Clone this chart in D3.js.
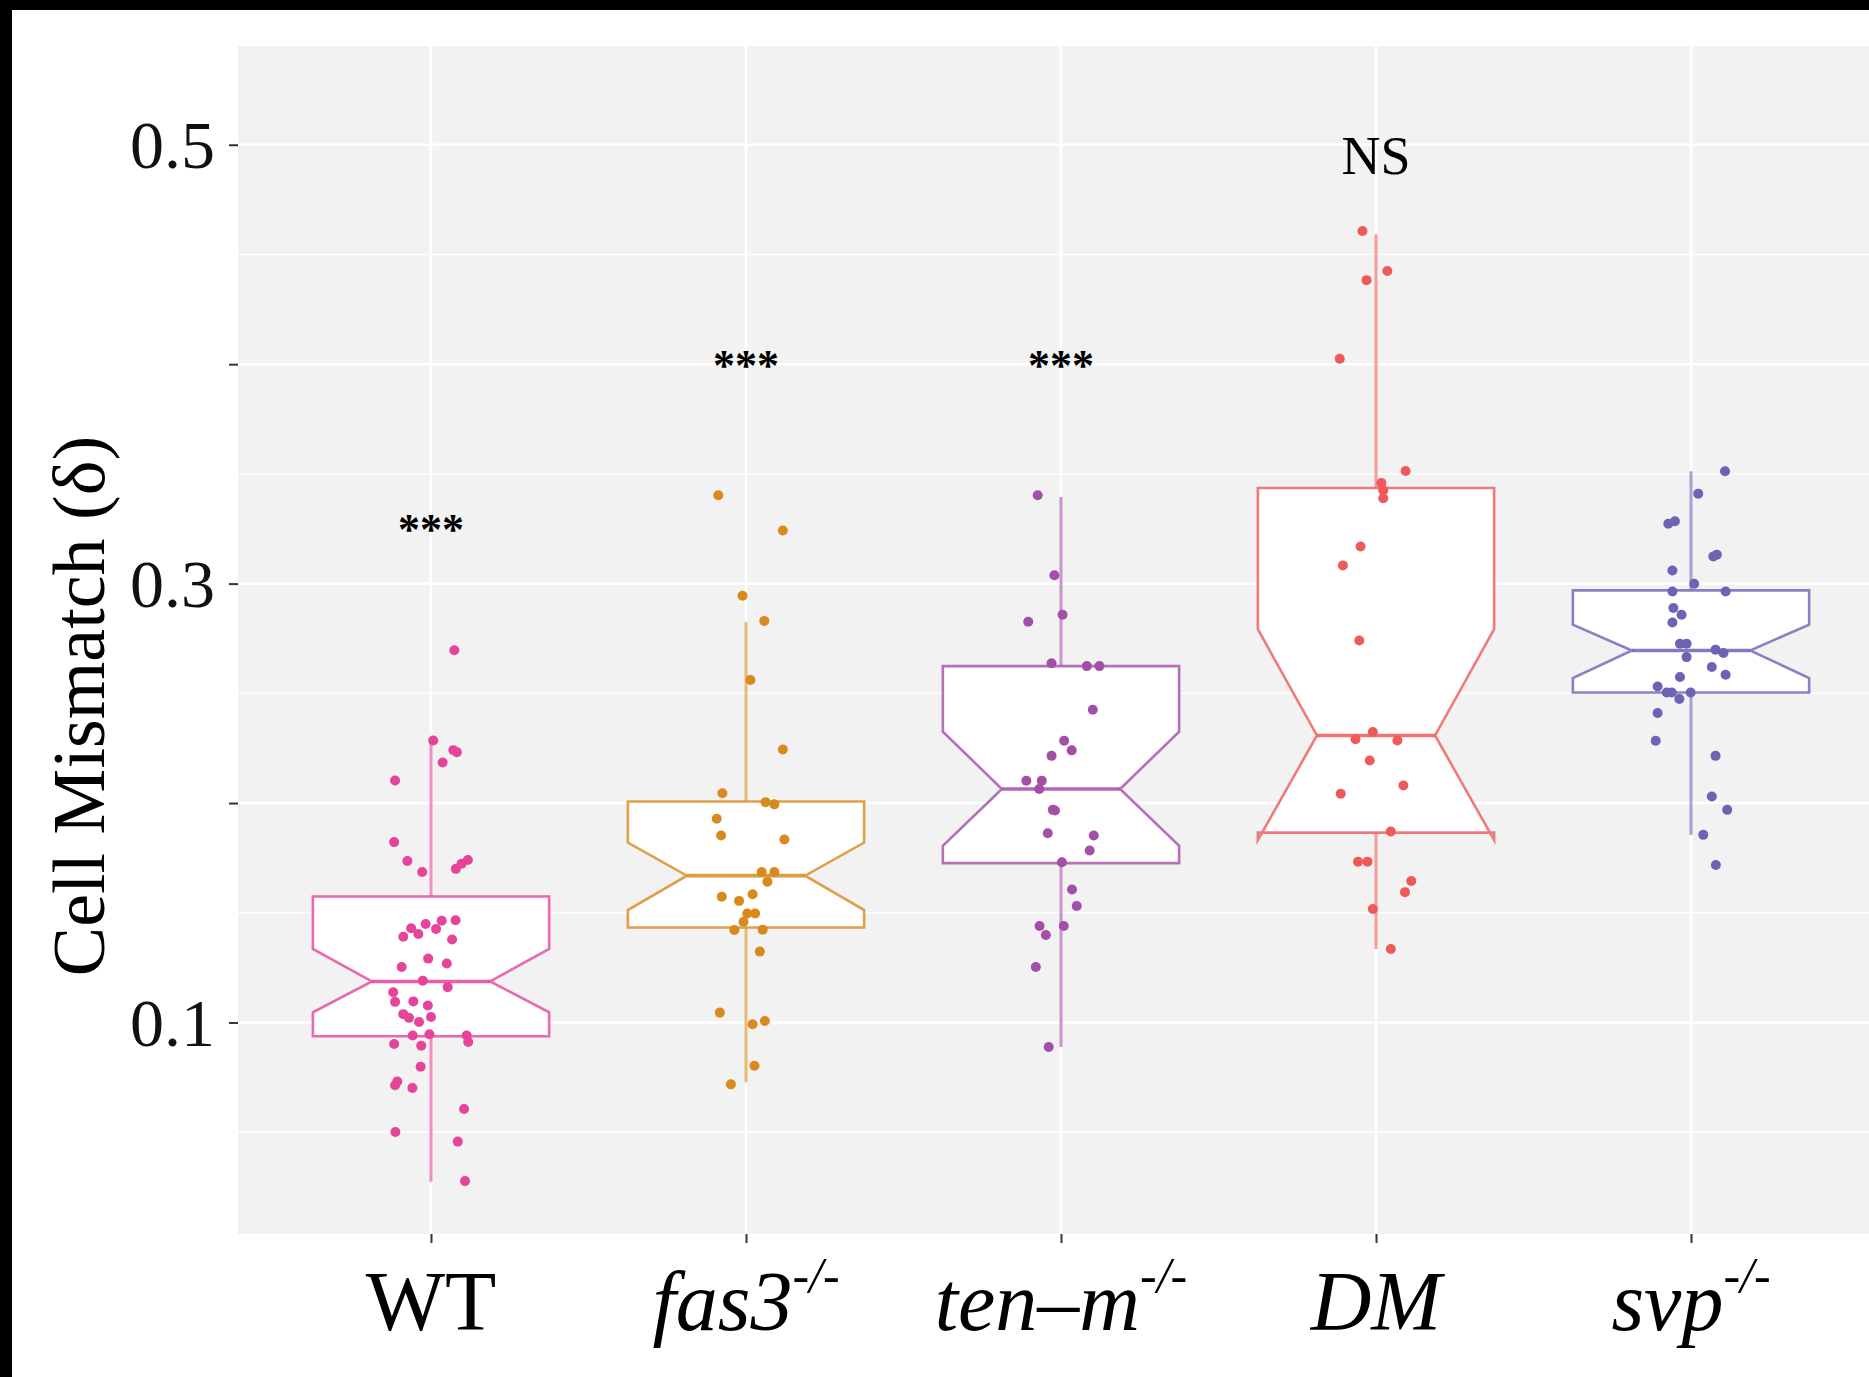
<!DOCTYPE html>
<html>
<head>
<meta charset="utf-8">
<script src="https://cdn.jsdelivr.net/npm/d3@7"></script>
<style>
  html, body { margin: 0; padding: 0; background: #fff; }
  svg { display: block; }
  text { font-family: "Liberation Serif", "DejaVu Serif", serif; }
</style>
</head>
<body>
<svg id="chart" width="1869" height="1377"></svg>
<script>
// Genotypes shown along the x axis
const categories = ["WT", "fas3", "ten-m", "DM", "svp"];
const catNames   = ["WT", "fas3", "ten\u2013m", "DM", "svp"];
const catItalic  = [false, true, true, true, true];
const catSup     = ["", "-/-", "-/-", "", "-/-"];
const colors     = ["#E6449A", "#D98A1F", "#A24FA8", "#EE5A5A", "#6B64B4"];

// Box statistics per genotype
const whiskerLo = [0.0274, 0.0727, 0.0888, 0.1335, 0.1855];
const q1        = [0.0937, 0.1433, 0.1726, 0.1865, 0.2504];
const median    = [0.1187, 0.1669, 0.2064, 0.2308, 0.2695];
const q3        = [0.1574, 0.2007, 0.2624, 0.3436, 0.2969];
const whiskerHi = [0.2285, 0.2826, 0.3395, 0.4592, 0.3512];
const notchLo   = [0.1046, 0.1512, 0.1805, 0.1831, 0.2570];
const notchHi   = [0.1335, 0.1820, 0.2325, 0.2792, 0.2813];

// Individual measurements (cell mismatch δ) per genotype
const valuesWT = [0.2696, 0.2285, 0.2241, 0.2232, 0.2185, 0.2103, 0.1822, 0.1736, 0.1686, 0.1700,
  0.1723, 0.1740, 0.1391, 0.1429, 0.1403, 0.1449, 0.1426, 0.1464, 0.1466, 0.1378, 0.1253, 0.1291,
  0.1269, 0.1190, 0.1161, 0.1138, 0.1094, 0.1096, 0.1077, 0.1038, 0.1021, 0.1002, 0.1025, 0.0941,
  0.0946, 0.0941, 0.0911, 0.0902, 0.0894, 0.0798, 0.0731, 0.0714, 0.0701, 0.0606, 0.0501, 0.0457, 0.0277];
const valuesFas3 = [0.3403, 0.3242, 0.2945, 0.2830, 0.2561, 0.2244, 0.2045, 0.1928, 0.1852, 0.2004,
  0.1994, 0.1834, 0.1686, 0.1686, 0.1641, 0.1573, 0.1554, 0.1584, 0.1497, 0.1497, 0.1459, 0.1421,
  0.1423, 0.1323, 0.1045, 0.0992, 0.1007, 0.0803, 0.0718];
const valuesTenm = [0.3403, 0.3038, 0.2858, 0.2826, 0.2637, 0.2624, 0.2624, 0.2425, 0.2284, 0.2240,
  0.2215, 0.2102, 0.2102, 0.2064, 0.1969, 0.1966, 0.1862, 0.1852, 0.1784, 0.1730, 0.1606, 0.1531,
  0.1440, 0.1399, 0.1440, 0.1253, 0.0888];
const valuesDM = [0.4607, 0.4425, 0.4383, 0.4025, 0.3513, 0.3459, 0.3425, 0.3389, 0.3169, 0.3083,
  0.2741, 0.2324, 0.2291, 0.2285, 0.2194, 0.2080, 0.2042, 0.1870, 0.1733, 0.1733, 0.1645, 0.1594,
  0.1517, 0.1335];
const valuesSvp = [0.3512, 0.3410, 0.3273, 0.3284, 0.3124, 0.3132, 0.3060, 0.2999, 0.2964, 0.2964,
  0.2889, 0.2858, 0.2823, 0.2726, 0.2726, 0.2665, 0.2699, 0.2684, 0.2620, 0.2585, 0.2574, 0.2531,
  0.2504, 0.2504, 0.2474, 0.2504, 0.2410, 0.2284, 0.2215, 0.2030, 0.1969, 0.1855, 0.1718];

// Horizontal jitter of each measurement, in category widths
const jitterWT = [0.074, 0.007, 0.071, 0.082, 0.037, -0.114, -0.117, -0.075, -0.028, 0.079, 0.097,
  0.117, -0.088, -0.063, -0.040, -0.017, 0.016, 0.034, 0.078, 0.067, -0.093, -0.009, 0.050, -0.026,
  0.053, -0.120, -0.114, -0.056, -0.010, -0.088, -0.070, -0.038, 0.000, -0.058, -0.005, 0.113, 0.118,
  -0.117, -0.031, -0.033, -0.107, -0.114, -0.059, 0.105, -0.113, 0.085, 0.108];
const jitterFas3 = [-0.088, 0.117, -0.011, 0.058, 0.014, 0.117, -0.075, -0.093, -0.079, 0.062, 0.090,
  0.122, 0.050, 0.090, 0.068, -0.077, -0.022, 0.021, 0.004, 0.029, -0.008, -0.037, 0.053, 0.044,
  -0.083, 0.021, 0.060, 0.027, -0.048];
const jitterTenm = [-0.074, -0.021, 0.005, -0.104, -0.030, 0.082, 0.122, 0.101, 0.010, 0.034, -0.030,
  -0.110, -0.061, -0.069, -0.026, -0.019, -0.042, 0.104, 0.091, 0.003, 0.035, 0.050, -0.068, -0.048,
  0.009, -0.080, -0.039];
const jitterDM = [-0.043, 0.036, -0.030, -0.115, 0.094, 0.017, 0.023, 0.023, -0.049, -0.105, -0.053,
  -0.010, -0.065, 0.068, -0.020, 0.087, -0.112, 0.047, -0.057, -0.027, 0.112, 0.092, -0.010, 0.047];
const jitterSvp = [0.108, 0.023, -0.072, -0.051, 0.071, 0.082, -0.059, 0.010, -0.059, 0.110, -0.056,
  -0.030, -0.059, -0.035, -0.014, -0.014, 0.078, 0.103, 0.066, 0.110, -0.035, -0.106, -0.077, -0.061,
  -0.037, -0.001, -0.106, -0.112, 0.078, 0.066, 0.115, 0.039, 0.079];

// Significance versus the reference, and the height of each annotation
const sigText = ["***", "***", "***", "NS", ""];
const sigY    = [0.328, 0.403, 0.403, 0.495, null];

// Y axis ticks
const yTicks      = [0.1, 0.2, 0.3, 0.4, 0.5];
const yTickLabels = ["0.1", "", "0.3", "", "0.5"];
const yMinor      = [0.05, 0.15, 0.25, 0.35, 0.45];
const yTitle      = "Cell Mismatch (\u03b4)";

const allValues = [valuesWT, valuesFas3, valuesTenm, valuesDM, valuesSvp];
const allJitter = [jitterWT, jitterFas3, jitterTenm, jitterDM, jitterSvp];

// ---- layout ----
const W = 1869, H = 1377;
const panel = { left: 238, top: 46, right: 1869, bottom: 1234 };

const svg = d3.select("#chart");

// outer frame
svg.append("rect").attr("x", 0).attr("y", 0).attr("width", W).attr("height", H).attr("fill", "#fff");
svg.append("rect").attr("x", 0).attr("y", 0).attr("width", W).attr("height", 10).attr("fill", "#000");
svg.append("rect").attr("x", 0).attr("y", 0).attr("width", 12).attr("height", H).attr("fill", "#000");

const x = d3.scalePoint().domain(categories).range([431, 1691]);
const step = x.step();
const y = d3.scaleLinear().domain([0.0036, 0.545]).range([panel.bottom, panel.top]);

// panel background
svg.append("rect")
  .attr("x", panel.left).attr("y", panel.top)
  .attr("width", panel.right - panel.left).attr("height", panel.bottom - panel.top)
  .attr("fill", "#F2F2F2");

const grid = svg.append("g");
grid.selectAll("line.minor").data(yMinor).join("line")
  .attr("x1", panel.left).attr("x2", panel.right)
  .attr("y1", d => y(d)).attr("y2", d => y(d))
  .attr("stroke", "#fff").attr("stroke-width", 1.4);
grid.selectAll("line.major").data(yTicks).join("line")
  .attr("x1", panel.left).attr("x2", panel.right)
  .attr("y1", d => y(d)).attr("y2", d => y(d))
  .attr("stroke", "#fff").attr("stroke-width", 2.6);
grid.selectAll("line.vert").data(categories).join("line")
  .attr("x1", d => x(d)).attr("x2", d => x(d))
  .attr("y1", panel.top).attr("y2", panel.bottom)
  .attr("stroke", "#fff").attr("stroke-width", 2.6);

// ---- boxes ----
const boxW = 0.75 * step;
const boxes = svg.append("g");

categories.forEach((c, i) => {
  const cx = x(c);
  const x0 = cx - boxW / 2, x1 = cx + boxW / 2;
  const nx0 = cx - boxW / 4, nx1 = cx + boxW / 4;
  const col = colors[i];
  const g = boxes.append("g");

  // whiskers
  g.append("line").attr("x1", cx).attr("x2", cx)
    .attr("y1", y(q3[i])).attr("y2", y(whiskerHi[i]))
    .attr("stroke", col).attr("stroke-opacity", 0.6).attr("stroke-width", 3);
  g.append("line").attr("x1", cx).attr("x2", cx)
    .attr("y1", y(q1[i])).attr("y2", y(whiskerLo[i]))
    .attr("stroke", col).attr("stroke-opacity", 0.6).attr("stroke-width", 3);

  // notched box outline
  const pts = [
    [x0, y(q3[i])], [x0, y(notchHi[i])], [nx0, y(median[i])], [x0, y(notchLo[i])], [x0, y(q1[i])],
    [x1, y(q1[i])], [x1, y(notchLo[i])], [nx1, y(median[i])], [x1, y(notchHi[i])], [x1, y(q3[i])]
  ];
  g.append("path")
    .attr("d", d3.line()(pts) + "Z")
    .attr("fill", "#fff")
    .attr("stroke", col).attr("stroke-opacity", 0.8).attr("stroke-width", 2.6)
    .attr("stroke-linejoin", "miter");

  // median
  g.append("line").attr("x1", nx0).attr("x2", nx1)
    .attr("y1", y(median[i])).attr("y2", y(median[i]))
    .attr("stroke", col).attr("stroke-opacity", 0.85).attr("stroke-width", 3.6);
});

// ---- jittered points ----
const pointsG = svg.append("g");
categories.forEach((c, i) => {
  const data = allValues[i].map((v, k) => ({ v, j: allJitter[i][k] }));
  pointsG.append("g").selectAll("circle").data(data).join("circle")
    .attr("cx", d => x(c) + d.j * step)
    .attr("cy", d => y(d.v))
    .attr("r", 5)
    .attr("fill", colors[i]);
});

// ---- significance labels ----
const sig = svg.append("g");
categories.forEach((c, i) => {
  if (!sigText[i]) return;
  const isStar = sigText[i].startsWith("*");
  sig.append("text")
    .attr("x", x(c))
    .attr("y", y(sigY[i]))
    .attr("dy", isStar ? 22 : 18)
    .attr("text-anchor", "middle")
    .attr("font-size", isStar ? 44 : 54)
    .attr("font-weight", isStar ? "bold" : "normal")
    .attr("fill", "#000")
    .text(sigText[i]);
});

// ---- axes ----
const yAxis = d3.axisLeft(y).tickValues(yTicks)
  .tickFormat((d, k) => yTickLabels[k]).tickSize(9).tickPadding(14);
const yg = svg.append("g").attr("transform", `translate(${panel.left},0)`).call(yAxis);
yg.select(".domain").remove();
yg.selectAll(".tick line").attr("stroke", "#333").attr("stroke-width", 2);
yg.selectAll(".tick text")
  .attr("font-family", "Liberation Serif, serif")
  .attr("font-size", 68).attr("fill", "#111").attr("dy", "0.34em");

const xAxis = d3.axisBottom(x).tickSize(9).tickFormat(() => "");
const xg = svg.append("g").attr("transform", `translate(0,${panel.bottom})`).call(xAxis);
xg.select(".domain").remove();
xg.selectAll(".tick line").attr("stroke", "#333").attr("stroke-width", 2);

// category labels with italic gene names and superscript genotype
const xl = svg.append("g");
categories.forEach((c, i) => {
  const t = xl.append("text")
    .attr("x", x(c))
    .attr("y", 1330)
    .attr("text-anchor", "middle")
    .attr("font-family", "Liberation Serif, serif")
    .attr("font-size", 84)
    .attr("fill", "#000");
  t.append("tspan")
    .attr("font-style", catItalic[i] ? "italic" : "normal")
    .text(catNames[i]);
  if (catSup[i]) {
    t.append("tspan")
      .attr("font-size", 50)
      .attr("font-style", "italic")
      .attr("dy", -38)
      .text(catSup[i]);
  }
});

// y axis title
svg.append("text")
  .attr("transform", "translate(104,706) rotate(-90)")
  .attr("text-anchor", "middle")
  .attr("font-size", 74)
  .attr("fill", "#000")
  .text(yTitle);
</script>
</body>
</html>
